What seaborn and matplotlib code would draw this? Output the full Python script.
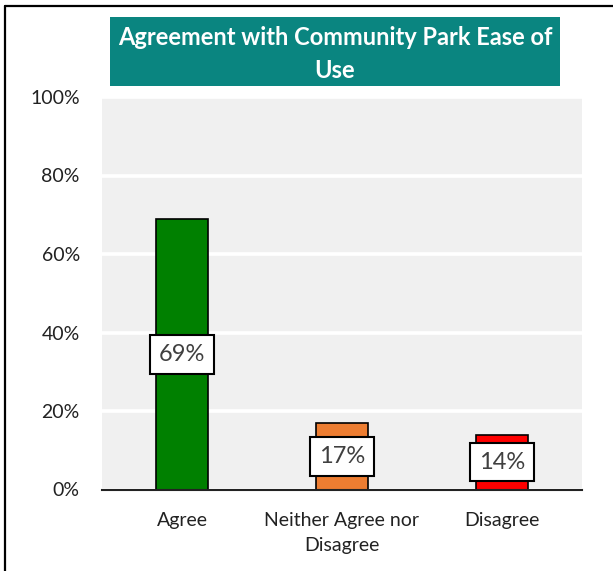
import matplotlib
matplotlib.use("Agg")
import matplotlib.pyplot as plt
from matplotlib.lines import Line2D
from matplotlib.patches import Rectangle
import seaborn as sns
import pandas as pd

# Survey results
categories = ["Agree", "Neither Agree nor\nDisagree", "Disagree"]
shares = [69, 17, 14]
bar_colors = ["#008000", "#ED7D31", "#FF0000"]
y_ticks = [0, 20, 40, 60, 80, 100]
y_tick_labels = ["0%", "20%", "40%", "60%", "80%", "100%"]
title = "Agreement with Community Park Ease of\nUse"

df = pd.DataFrame({"category": categories, "share": shares})

sns.set_theme(style="white")
plt.rcParams["font.family"] = ["Lato", "DejaVu Sans"]

W, H = 613, 571
fig = plt.figure(figsize=(W / 100, H / 100), dpi=100)
ax = fig.add_axes([102 / W, 1 - 489.5 / H, 480 / W, 392.5 / H])
ax.set_facecolor("#F0F0F0")

sns.barplot(data=df, x="category", y="share", hue="category",
            palette=bar_colors, saturation=1, width=0.32, edgecolor="black",
            linewidth=1.2, legend=False, ax=ax, zorder=3)

ax.set_ylim(0, 100)
ax.set_yticks(y_ticks)
ax.set_yticklabels(y_tick_labels)
ax.set_xlabel("")
ax.set_ylabel("")
ax.grid(axis="y", color="white", linewidth=2.6, zorder=1)
ax.set_axisbelow(True)
for side in ["left", "right", "top"]:
    ax.spines[side].set_visible(False)
ax.spines["bottom"].set_color("#222222")
ax.spines["bottom"].set_linewidth(1.5)
ax.spines["bottom"].set_zorder(4)
ax.tick_params(axis="y", length=0, pad=16, labelsize=14, labelcolor="#222222")
ax.tick_params(axis="x", length=0, pad=16, labelsize=14, labelcolor="#222222")
for lbl in ax.get_xticklabels():
    lbl.set_linespacing(1.6)

# Value labels in boxes at the middle of each bar
for i, v in enumerate(shares):
    ax.text(i, v / 2, f"{v}%", ha="center", va="center", fontsize=17,
            color="#404040", zorder=5,
            bbox=dict(boxstyle="square,pad=0.38", facecolor="white",
                      edgecolor="black", linewidth=1.5))

# Title banner
fig.patches.append(Rectangle((110 / W, 1 - 86 / H), 450 / W, 69 / H,
                             transform=fig.transFigure, facecolor="#0A8580",
                             edgecolor="none", zorder=1))
fig.text(335 / W, 1 - 54 / H, title, ha="center", va="center",
         fontsize=17, fontweight="bold", color="white", linespacing=1.5,
         zorder=2)

# Frame lines along the top and left edges
fig.add_artist(Line2D([4.5 / W, 1], [1 - 6 / H, 1 - 6 / H],
                      transform=fig.transFigure, color="black", linewidth=1.6))
fig.add_artist(Line2D([4.5 / W, 4.5 / W], [0, 1 - 6 / H],
                      transform=fig.transFigure, color="black", linewidth=1.6))

fig.savefig("out.png", dpi=100, facecolor="white")
